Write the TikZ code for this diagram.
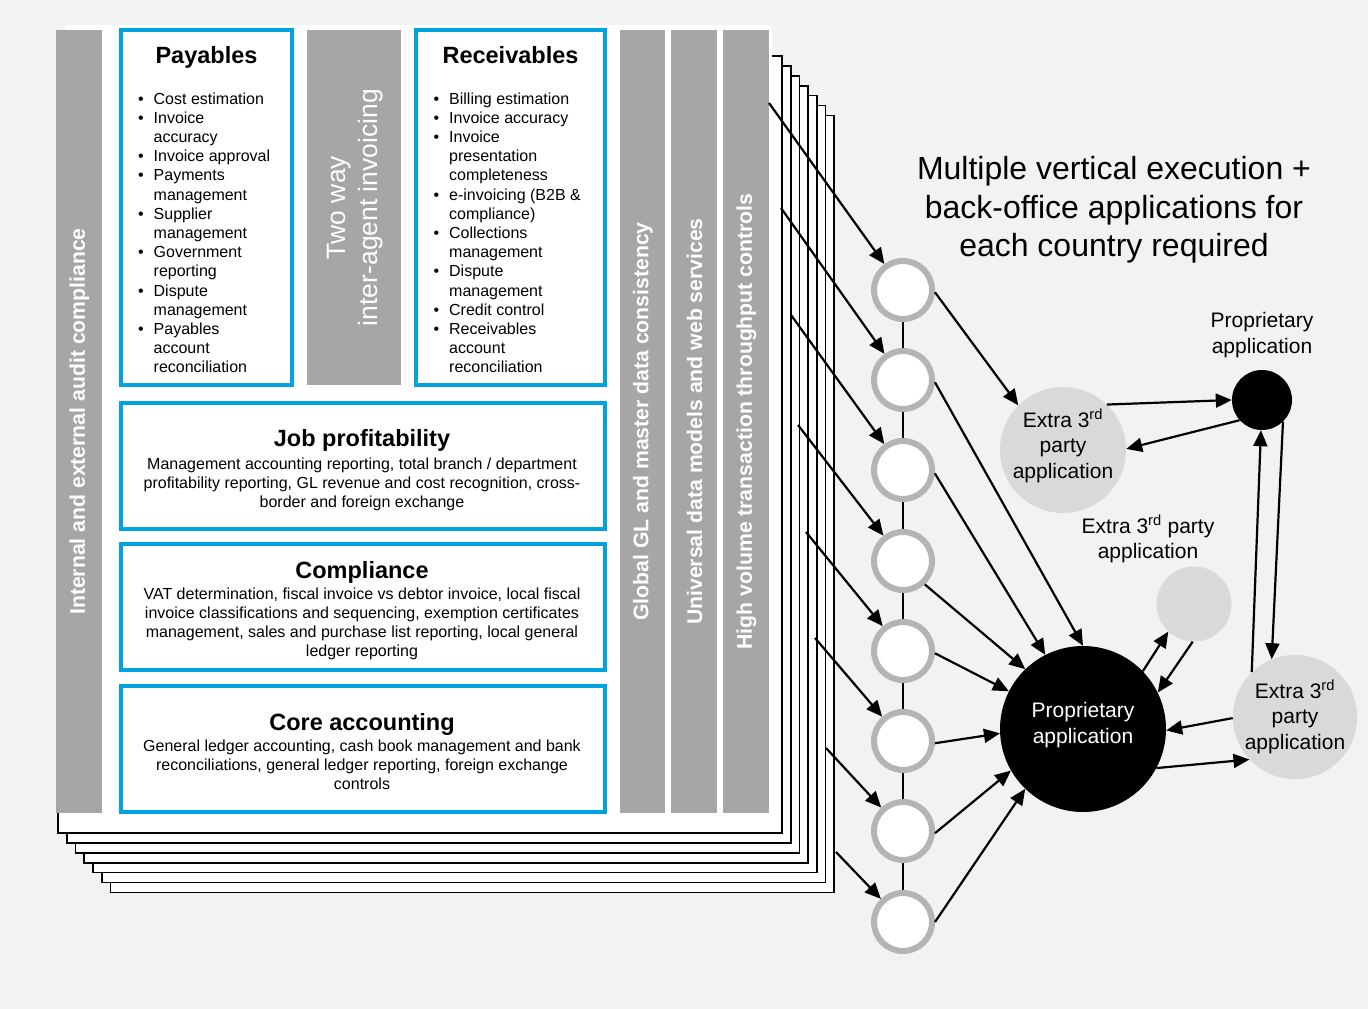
\documentclass[tikz,border=0pt]{standalone}
\usepackage{fontspec}
\setmainfont{Liberation Sans}
\usetikzlibrary{arrows.meta}

\definecolor{bgcol}{RGB}{242,242,242}
\definecolor{barcol}{RGB}{166,166,166}
\definecolor{boxblue}{RGB}{0,163,224}
\definecolor{ringcol}{RGB}{180,180,180}
\definecolor{appgray}{RGB}{217,217,217}

\newcommand{\fsz}[2]{\fontsize{#1}{#2}\selectfont}
\newcommand{\itm}{\makebox[15.5pt][l]{\textbullet}}
\newcommand{\cnt}{\hspace*{15.5pt}}

\begin{document}
\begin{tikzpicture}[x=1pt,y=-1pt,
  sheet/.style={draw=black, line width=1.7pt, fill=white},
  bluebox/.style={draw=boxblue, line width=4.5pt, fill=white},
  bartext/.style={rotate=90, text=white, font=\fsz{21.2}{25}\bfseries, inner sep=0pt},
  boxtitle/.style={anchor=base, inner sep=0pt, font=\fsz{23.5}{28}\bfseries},
  boxbody/.style={anchor=base, inner sep=0pt, font=\fsz{16}{19.2}},
  listbody/.style={anchor=base west, inner sep=0pt, font=\fsz{16}{19.2}},
  arr/.style={line width=2.2pt, -{Triangle[length=16pt,width=14pt]}},
  hub/.style={circle, draw=ringcol, line width=6pt, fill=white, minimum size=58pt, inner sep=0pt},
  appnode/.style={circle, fill=appgray, inner sep=0pt, align=center, font=\fsz{21}{25.5}},
  applabel/.style={align=center, inner sep=0pt, font=\fsz{21}{25.5}}
]
% canvas
\fill[bgcol] (0,0) rectangle (1368,1009);
\useasboundingbox (0,0) rectangle (1368,1009);

% stack of sheets behind the front page
\foreach \i in {6,5,4,3,2,1,0} {
  \draw[sheet] ({58+8.75*\i},{56+9.9*\i}) rectangle ({782+8.7*\i},{833+9.9*\i});
}
% front page
\fill[white] (65,25) rectangle (772,826);

% grey columns
\fill[barcol] (56,30) rectangle (102,813);
\fill[barcol] (307,30) rectangle (401,385);
\fill[barcol] (620,30) rectangle (665,813);
\fill[barcol] (671,30) rectangle (717,813);
\fill[barcol] (723,30) rectangle (769,813);

\node[bartext] (audit) at (79.5,421.5) {Internal and external audit compliance};
\node[bartext] (glcons) at (643,421.5) {Global GL and master data consistency};
\node[bartext] (webserv) at (694.5,421.5) {Universal data models and web services};
\node[bartext] (volume) at (746.5,421.5) {High volume transaction throughput controls};
\node[rotate=90, text=white, align=center, inner sep=0pt, font=\fsz{26.5}{31.8}] (twoway) at (355,207.5) {Two way\\inter-agent invoicing};

% blue module boxes
\draw[bluebox] (121,30) rectangle (292,385);
\draw[bluebox] (416,30) rectangle (605,385);
\draw[bluebox] (121,403) rectangle (605,529);
\draw[bluebox] (121,544) rectangle (605,670);
\draw[bluebox] (121,686) rectangle (605,812);

% Payables
\node[boxtitle] (paytitle) at (206.5,63) {Payables};
\node[listbody] (paylist) at (138,104) {\begin{tabular}[t]{@{}l@{}}
\itm Cost estimation\\
\itm Invoice\\
\cnt accuracy\\
\itm Invoice approval\\
\itm Payments\\
\cnt management\\
\itm Supplier\\
\cnt management\\
\itm Government\\
\cnt reporting\\
\itm Dispute\\
\cnt management\\
\itm Payables\\
\cnt account\\
\cnt reconciliation
\end{tabular}};

% Receivables
\node[boxtitle] (rectitle) at (510.5,63) {Receivables};
\node[listbody] (reclist) at (433.5,104) {\begin{tabular}[t]{@{}l@{}}
\itm Billing estimation\\
\itm Invoice accuracy\\
\itm Invoice\\
\cnt presentation\\
\cnt completeness\\
\itm e-invoicing (B2B \&\\
\cnt compliance)\\
\itm Collections\\
\cnt management\\
\itm Dispute\\
\cnt management\\
\itm Credit control\\
\itm Receivables\\
\cnt account\\
\cnt reconciliation
\end{tabular}};

% Job profitability
\node[boxtitle] (jobtitle) at (362,446) {Job profitability};
\node[boxbody] (jobbody) at (362,469) {\begin{tabular}[t]{@{}c@{}}
Management accounting reporting, total branch / department\\
profitability reporting, GL revenue and cost recognition, cross-\\
border and foreign exchange
\end{tabular}};

% Compliance
\node[boxtitle] (comptitle) at (362,578) {Compliance};
\node[boxbody] (compbody) at (362,599) {\begin{tabular}[t]{@{}c@{}}
VAT determination, fiscal invoice vs debtor invoice, local fiscal\\
invoice classifications and sequencing, exemption certificates\\
management, sales and purchase list reporting, local general\\
ledger reporting
\end{tabular}};

% Core accounting
\node[boxtitle] (coretitle) at (362,730) {Core accounting};
\node[boxbody] (corebody) at (362,751) {\begin{tabular}[t]{@{}c@{}}
General ledger accounting, cash book management and bank\\
reconciliations, general ledger reporting, foreign exchange\\
controls
\end{tabular}};

% headline
\node[align=center, inner sep=0pt, font=\fsz{32}{38.5}] (headline) at (1114,210) {Multiple vertical execution +\\back-office applications for\\each country required};

% country hubs
\foreach \n/\yy in {1/290,2/380,3/470,4/561,5/651,6/741,7/831,8/922} {
  \node[hub] (c\n) at (903,\yy) {};
}
\foreach \a/\b in {1/2,2/3,3/4,4/5,5/6,6/7,7/8} {
  \draw[line width=1.5pt] (c\a) -- (c\b);
}

% arrows from the sheets into the hubs
\coordinate (s1) at (769,103);
\coordinate (s2) at (781,208);
\coordinate (s3) at (791,315);
\coordinate (s4) at (798,425);
\coordinate (s5) at (806,532);
\coordinate (s6) at (815,638);
\coordinate (s7) at (826,748);
\coordinate (s8) at (836,852);
\foreach \n in {1,...,8} {
  \draw[arr] (s\n) -- (c\n);
}

% applications
\node[circle, fill=black, minimum size=166pt, inner sep=0pt] (prop) at (1083,729) {};
\node[text=white, align=center, inner sep=0pt, font=\fsz{21}{25.5}] (proptext) at (1083,725) {Proprietary\\application};
\node[circle, fill=black, minimum size=60pt, inner sep=0pt] (propsmall) at (1262,400) {};
\node[appnode, minimum size=126pt] (ext1) at (1063,450) {};
\node[applabel] (ext1text) at (1063,446) {Extra 3\textsuperscript{rd}\\party\\application};
\node[appnode, minimum size=124pt] (ext3) at (1295,717) {Extra 3\textsuperscript{rd}\\party\\application};
\node[appnode, minimum size=75pt] (ext2) at (1194,604) {};
\node[applabel] (propsmalllbl) at (1262,335) {Proprietary\\application};
\node[applabel] (ext2lbl) at (1148,539) {Extra 3\textsuperscript{rd} party\\application};

% hub to application arrows
\draw[arr] (c1.-4) -- (ext1.135);
\draw[arr] (c2.-4) -- (prop.90);
\draw[arr] (c3.-6) -- (prop.117);
\draw[arr] (c4.-47) -- (prop.134);
\draw[arr] (c5.-4) -- (prop.153);
\draw[arr] (c6.-4) -- (prop.183);
\draw[arr] (c7.-4) -- (prop.210);
\draw[arr] (c8.0) -- (prop.226);

% application interfaces
\draw[arr] (ext1.46) -- (propsmall.180);
\draw[arr] (propsmall.222) -- (ext1.1);
\draw[arr] (ext3.134) -- (propsmall.268);
\draw[arr] (propsmall.314) -- (ext3.112);
\draw[arr] (prop.44.5) -- (ext2.227);
\draw[arr] (ext2.268) -- (prop.26);
\draw[arr] (ext3.181) -- (prop.-1);
\draw[arr] (prop.-28) -- (ext3.223);
\end{tikzpicture}
\end{document}
